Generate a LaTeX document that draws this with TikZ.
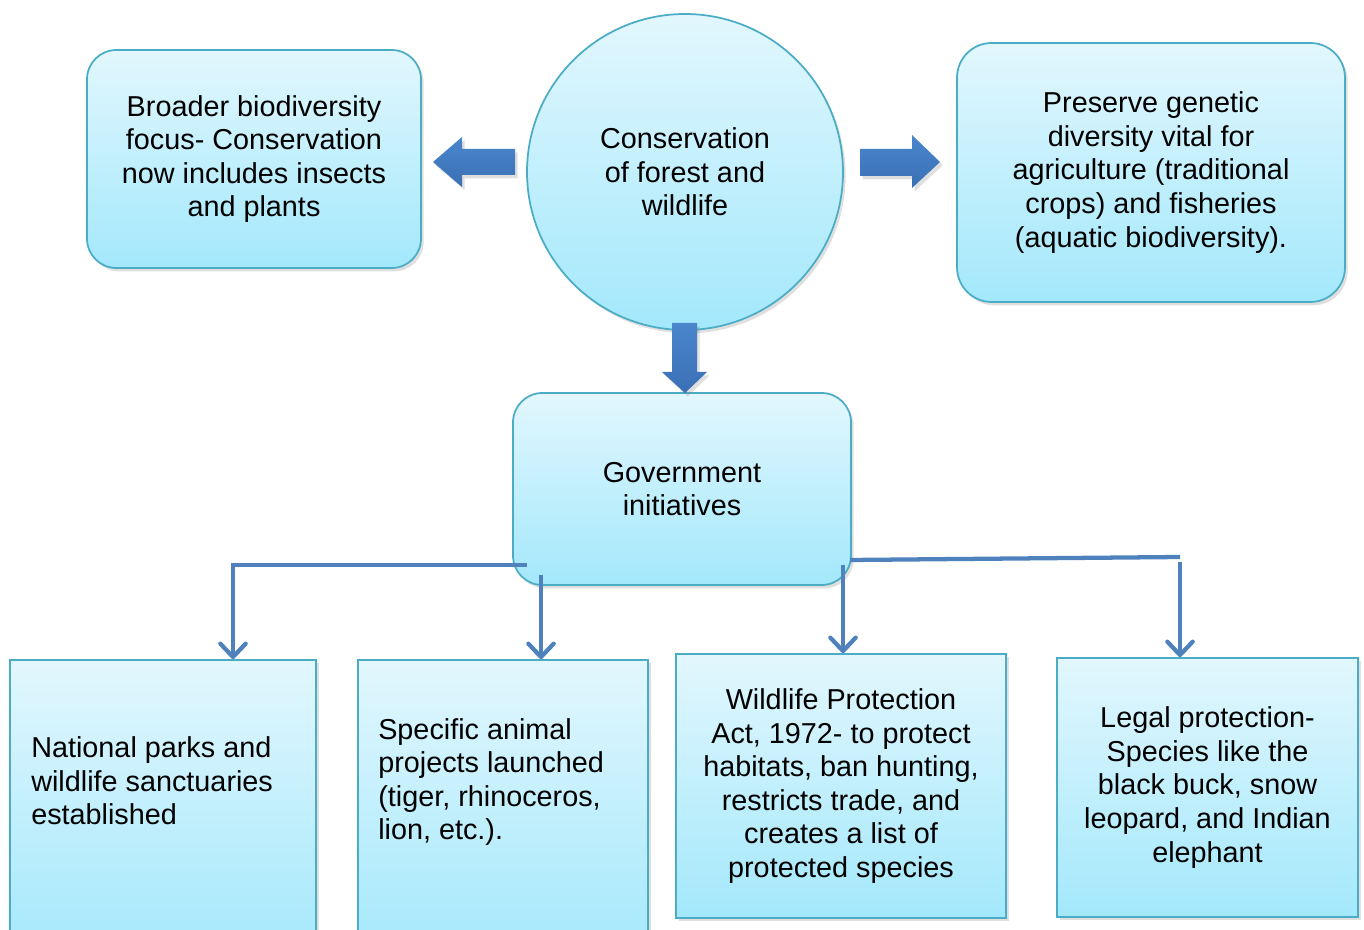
\documentclass[tikz,border=0pt]{standalone}
\usepackage{fontspec}
\setmainfont{Liberation Sans}
\usetikzlibrary{arrows.meta,shadows,calc}
\definecolor{topc}{HTML}{E2F7FD}
\definecolor{botc}{HTML}{A3E8FC}
\definecolor{edgec}{HTML}{4BACC6}
\definecolor{connc}{HTML}{4F81BD}
\definecolor{blkc}{HTML}{3A6FB5}
\definecolor{blkl}{HTML}{4A86CC}
\tikzset{
  txt/.style={font=\fontsize{21.6}{25.2}\selectfont, align=center, text=black},
  shd/.style={drop shadow={opacity=0.25, shadow xshift=2pt, shadow yshift=-2.5pt}},
  rbox/.style={shd, draw=edgec, line width=1.3pt, top color=topc, bottom color=botc, rounded corners=22pt, inner sep=0pt, txt},
  sbox/.style={shd, draw=edgec, line width=1.3pt, top color=topc, bottom color=botc, inner sep=0pt, txt},
  cbox/.style={shd, circle, draw=edgec, line width=1.3pt, top color=topc, bottom color=botc, inner sep=0pt, txt},
  blk/.style={shd, top color=blkl, bottom color=blkc, draw=none},
  conn/.style={draw=connc, line width=3.2pt, -{Straight Barb[length=10pt,width=19pt,line width=3.2pt,round]}},
  connl/.style={draw=connc, line width=3.2pt}
}
\begin{document}
\begin{tikzpicture}[x=0.75pt,y=-0.75pt]
\useasboundingbox (0,0) rectangle (1364,930);
% boxes
\node[rbox, minimum width=250.5pt, minimum height=163.5pt] (left) at (254,159)
  {Broader biodiversity\\focus- Conservation\\now includes insects\\and plants};
\node[cbox, minimum size=237pt] (center) at (685,172)
  {Conservation\\of forest and\\wildlife};
\node[rbox, rounded corners=26pt, minimum width=291pt, minimum height=194.25pt] (right) at (1151,172.5)
  {Preserve genetic\\diversity vital for\\agriculture (traditional\\crops) and fisheries\\(aquatic biodiversity).};
\node[rbox, minimum width=253.5pt, minimum height=144pt] (gov) at (682,489)
  {Government\\initiatives};
\node[sbox, minimum width=229.5pt, minimum height=225pt] (b1) at (163,810) {};
\node[txt, align=left, anchor=west, inner sep=0pt] (b1t) at (31,781)
  {National parks and\\wildlife sanctuaries\\established};
\node[sbox, minimum width=217.5pt, minimum height=225pt] (b2) at (503,810) {};
\node[txt, align=left, anchor=west, inner sep=0pt] (b2t) at (378,782)
  {Specific animal\\projects launched\\(tiger, rhinoceros,\\lion, etc.).};
\node[sbox, minimum width=247.5pt, minimum height=198pt] (b3) at (841,786)
  {Wildlife Protection\\Act, 1972- to protect\\habitats, ban hunting,\\restricts trade, and\\creates a list of\\protected species};
\node[sbox, minimum width=225.75pt, minimum height=194.25pt] (b4) at (1207.5,787.5)
  {Legal protection-\\Species like the\\black buck, snow\\leopard, and Indian\\elephant};
% block arrows
\path[blk] (433,162) -- (462,137) -- (462,149) -- (515,149) -- (515,175) -- (462,175) -- (462,187) -- cycle;
\path[blk] (940,162) -- (912,135) -- (912,149) -- (860,149) -- (860,176) -- (912,176) -- (912,188) -- cycle;
\path[blk] (685,393) -- (662,372) -- (672,372) -- (672,323) -- (697,323) -- (697,372) -- (707,372) -- cycle;
% connectors
\coordinate (g1) at (527,565);
\coordinate (g2) at (541,575);
\coordinate (g3) at (843,565);
\coordinate (g4) at (850,560);
\coordinate (g5) at (1180,557);
\coordinate (g6) at (1180,562);
\draw[conn] (g1) -| ($(b1.north)+(70,0)$);
\draw[conn] (g2) -- (g2 |- b2.north);
\draw[conn] (g3) -- (g3 |- b3.north);
\draw[connl] (g4) -- (g5);
\draw[conn] (g6) -- (g6 |- b4.north);
\end{tikzpicture}
\end{document}
